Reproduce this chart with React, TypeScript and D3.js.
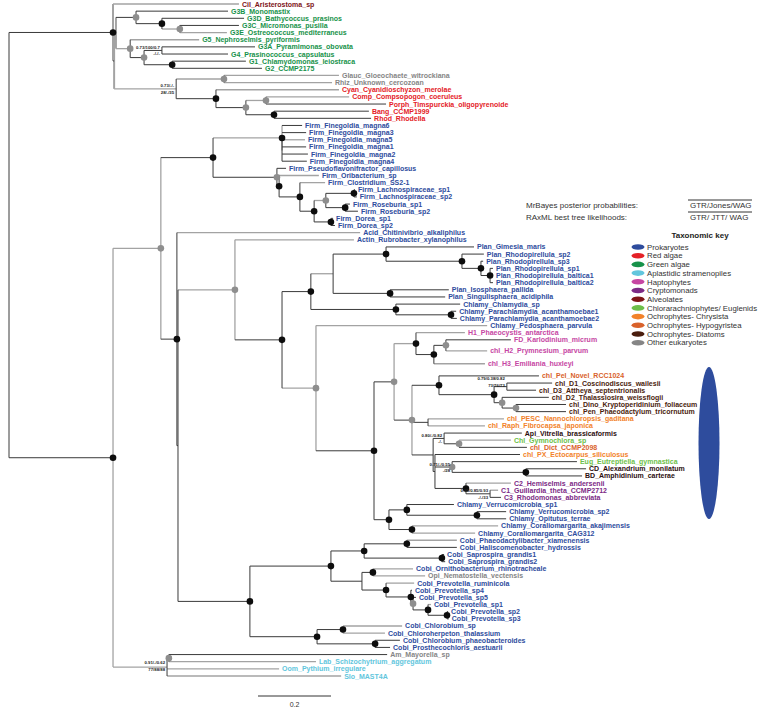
import React from "react";
import * as d3 from "d3";

// ---------- DATA ----------
// Tree pieces in Newick form; the number after ":" is the node's depth (distance from root, subst./site)
const topClade =
  "(Cil_Aristerostoma_sp:0.630,(((G3B_Monomastix:0.600,(G3D_Bathycoccus_prasinos:0.644,(G3C_Micromonas_pusilla:0.630,G3E_Ostreococcus_mediterraneus:0.597)G3Cn:0.468)G3Dn:0.419)G3Bc:0.348,(G5_Nephroselmis_pyriformis:0.521,((G3A_Pyramimonas_obovata:0.674,G4_Prasinococcus_capsulatus:0.600)G34:0.419,(G1_Chlamydomonas_leiostraca:0.649,G2_CCMP2175:0.693)G12:0.447)Gp:0.370)G5c:0.332)Gg:0.293,((Glauc_Gloeochaete_witrockiana:0.904,Rhiz_Unknown_cercozoan:0.885)GR:0.589,(Cyan_Cyanidioschyzon_merolae:0.904,((Comp_Compsopogon_coeruleus:0.932,Porph_Timspurckia_oligopyrenoide:1.033)Rd3:0.704,(Bang_CCMP1999:0.986,Rhod_Rhodella:0.992)Rd4:0.726)Rd2:0.649)Rd:0.567)R:0.458)A2:0.288)A1:0.285";

const firmClade =
  "((Firm_Finegoldia_magna6:0.803,Firm_Finegoldia_magna3:0.814,(Firm_Finegoldia_magna5:0.811,Firm_Finegoldia_magna1:0.814,Firm_Finegoldia_magna2:0.819,Firm_Finegoldia_magna4:0.816)Fin2:0.748)Fin:0.748,(Firm_Pseudoflavonifractor_capillosus:0.759,(Firm_Oribacterium_sp:0.849,(Firm_Clostridium_SS2-1:0.866,(((Firm_Lachnospiraceae_sp1:0.948,Firm_Lachnospiraceae_sp2:0.953)Lach:0.945,(Firm_Roseburia_sp1:0.934,Firm_Roseburia_sp2:0.956)Rose:0.921)Gl:0.868,(Firm_Dorea_sp1:0.888,Firm_Dorea_sp2:0.893)Dor:0.882)L:0.836)C:0.797)D:0.740)FP:0.734)F:0.559";

const planClade =
  "(((Plan_Gimesia_maris:1.274,(Plan_Rhodopirellula_sp2:1.301,(Plan_Rhodopirellula_sp3:1.299,(Plan_Rhodopirellula_sp1:1.326,Plan_Rhodopirellula_baltica1:1.326,Plan_Rhodopirellula_baltica2:1.326)R3:1.318)R2:1.293)R1:1.241)Pb:1.033,(Plan_Isosphaera_pallida:1.205,Plan_Singulisphaera_acidiphila:1.195)Pc:1.044)Pa:0.888,(Chlamy_Chlamydia_sp:1.236,(Chlamy_Parachlamydia_acanthamoebae1:1.225,Chlamy_Parachlamydia_acanthamoebae2:1.227)Pn:1.211)Chl:1.060)Pl:0.827";

const plastidClade =
  "((H1_Phaeocystis_antarctica:1.249,((FD_Karlodinium_micrum:1.375,chl_H2_Prymnesium_parvum:1.310)Hn3:1.197,chl_H3_Emiliania_huxleyi:1.304)Hn2:1.164)Hn:1.115,((chl_Pel_Novel_RCC1024:1.452,((chl_D1_Coscinodiscus_wailesii:1.488,chl_D3_Attheya_septentrionalis:1.444)Da:1.364,(chl_D2_Thalassiosira_weissflogii:1.479,(chl_Dino_Kryptoperidinium_foliaceum:1.526,chl_Pen_Phaeodactylum_tricornutum:1.526)Dc:1.389)Db:1.351)Dd:1.329)Dn:1.178,(chl_PESC_Nannochloropsis_gaditana:1.356,chl_Raph_Fibrocapsa_japonica:1.304)PR:1.148,((Api_Vitrella_brassicaformis:1.405,(Chl_Gymnochlora_sp:1.375,chl_Dict_CCMP2098:1.419)Gy:1.233)Ap:1.192,(chl_PX_Ectocarpus_siliculosus:1.400,(Eug_Eutreptiella_gymnastica:1.556,(CD_Alexandrium_monilatum:1.581,BD_Amphidinium_carterae:1.570)CDBD:1.416)E:1.214,(C2_Hemiselmis_andersenii:1.375,(C1_Guillardia_theta_CCMP2712:1.340,C3_Rhodomonas_abbreviata:1.348)Cr2:1.318)Cr:1.252)Kx:1.167)Y:1.162)W:1.104)U:1.055";

const verruClade =
  "((Chlamy_Verrucomicrobia_sp1:1.219,(Chlamy_Verrucomicrobia_sp2:1.362,Chlamy_Opitutus_terrae:1.362)Vr2:1.282)Vr1:1.090,(Chlamy_Coraliomargarita_akajimensis:1.340,Chlamy_Coraliomargarita_CAG312:1.277)Vc:1.104)V:1.041";

const cobiClade =
  "((((Cobi_Phaeodactylibacter_xiamenensis:1.227,Cobi_Haliscomenobacter_hydrossis:1.227)Ph:1.090,(Cobi_Saprospira_grandis1:1.192,Cobi_Saprospira_grandis2:1.195)Sp:1.186)Bu:0.973,((Cobi_Ornithobacterium_rhinotracheale:1.107,Opi_Nematostella_vectensis:1.140)On:0.997,(Cobi_Prevotella_ruminicola:1.110,(Cobi_Prevotella_sp4:1.104,(Cobi_Prevotella_sp5:1.115,(Cobi_Prevotella_sp1:1.156,(Cobi_Prevotella_sp2:1.203,Cobi_Prevotella_sp3:1.205)P4:1.200)P3:1.148)P2:1.107)P1:1.101)P0:1.033)Bl:0.967)Bac:0.882,((Cobi_Chlorobium_sp:1.077,Cobi_Chloroherpeton_thalassium:1.030)Cha:0.915,(Cobi_Chlorobium_phaeobacteroides:1.071,Cobi_Prosthecochloris_aestuarii:1.044)Chb:1.003)Ch:0.844)CB:0.660";

const stramClade =
  "((Am_Mayorella_sp:1.036,Lab_Schizochytrium_aggregatum:0.841)AL:0.438,Oom_Pythium_irregulare:0.740,Slo_MAST4A:0.910)Bb:0.433";

const treeNewick = `(${topClade},((${firmClade},(Acid_Chitinivibrio_alkaliphilus:0.962,((Actin_Rubrobacter_xylanophilus:0.945,(${planClade},(Chlamy_Pedosphaera_parvula:1.310,(${plastidClade},${verruClade})T:1.000)S:0.841)Q:0.748)P:0.619,${cobiClade})N2:0.463)M:0.460)G1n:0.416,${stramClade})B:0.285)root:0`;

// support symbols
const blackNodes = ["A1", "B", "G3Dn", "G12", "Rd", "Rd4", "F", "Fin", "D", "C", "L", "Lach", "Rose", "Dor", "M", "Q", "Pl", "Pb", "R1", "R2", "R3", "Pc", "Chl", "Pn", "T", "Hn", "Hn2", "Dn", "Dd", "CDBD", "Cr", "V", "Vr1", "Vr2", "Vc", "CB", "Bac", "Bu", "Ph", "Sp", "On", "P0", "P1", "P3", "P4", "Ch", "Cha", "Chb"];
const grayNodes = ["G3Bc", "G3Cn", "G5c", "Gp", "GR", "Rd2", "Rd3", "G1n", "FP", "Gl", "P", "S", "U", "Hn3", "W", "Db", "Dc", "Gy", "E", "P2", "AL"];
// [node, posterior line, likelihood line, vertical shift in px]
const supportLabels: [string, string, string, number][] = [
  ["R", "0.73/-/-", "28/-/35", 0],
  ["G34", "0.73/100/0.7", "-/-/-", 0],
  ["Da", "0.79/0.38/0.82", "73/76/73", -5],
  ["Ap", "0.80/-/0.82", "-/-", 0],
  ["E", "0.71/-/0.55", "-/28", 0],
  ["Cr2", "0.95/0.85/0.93", "-/-/33", 0],
  ["Bb", "0.91/-/0.62", "77/88/88", -1.5],
];
// branches drawn in light grey (stem into the named node / tip)
const greyStems = [
  "Cil_Aristerostoma_sp", "G3Cn", "G3E_Ostreococcus_mediterraneus", "G5c", "G5_Nephroselmis_pyriformis", "R", "GR",
  "Glauc_Gloeochaete_witrockiana", "Rhiz_Unknown_cercozoan", "Cyan_Cyanidioschyzon_merolae", "Rd3", "Comp_Compsopogon_coeruleus",
  "G1n", "Bb", "Fin", "Firm_Finegoldia_magna5", "Firm_Oribacterium_sp", "Firm_Clostridium_SS2-1", "Gl",
  "Acid_Chitinivibrio_alkaliphilus", "Actin_Rubrobacter_xylanophilus", "P", "Pa", "S", "Hn", "H1_Phaeocystis_antarctica",
  "chl_H2_Prymnesium_parvum", "chl_H3_Emiliania_huxleyi", "chl_PESC_Nannochloropsis_gaditana", "chl_Raph_Fibrocapsa_japonica",
  "Chl_Gymnochlora_sp", "C2_Hemiselmis_andersenii", "C1_Guillardia_theta_CCMP2712", "Chlamy_Pedosphaera_parvula",
  "Chlamy_Coraliomargarita_akajimensis", "Chlamy_Coraliomargarita_CAG312", "Cobi_Phaeodactylibacter_xiamenensis",
  "Cobi_Ornithobacterium_rhinotracheale", "Opi_Nematostella_vectensis", "Cobi_Prevotella_ruminicola", "Cobi_Prevotella_sp1",
  "Cobi_Chlorobium_sp", "Cobi_Chloroherpeton_thalassium", "Lab_Schizochytrium_aggregatum", "Oom_Pythium_irregulare", "Slo_MAST4A",
];
const greyVerticals = ["A1", "A2", "Gg", "B", "G1n", "P", "S", "U", "W", "Fin", "Gy", "Cha"];

// extra vertical space (in rows) before some tips
const extraGap: [string, number][] = [
  ["chl_H2_Prymnesium_parvum", 0.55],
  ["chl_H3_Emiliania_huxleyi", 0.8],
  ["chl_Pel_Novel_RCC1024", 0.7],
];

// taxonomic key
const groups = ["Prokaryotes", "Red algae", "Green algae", "Aplastidic stramenopiles", "Haptophytes", "Cryptomonads", "Alveolates", "Chlorarachniophytes/ Euglenids", "Ochrophytes- Chrysista", "Ochrophytes- Hypogyristea", "Ochrophytes- Diatoms", "Other eukaryotes"];
const groupColors = ["#2e4c9d", "#e42127", "#17924a", "#62c6dd", "#c646a3", "#7c2a85", "#7e1517", "#6dbf4a", "#f2822a", "#d9622b", "#4a1d0d", "#858585"];
const dinoColor = "#2c0e0e";
// tip prefix -> group index (12 = dinoflagellate/apicomplexan tips)
const prefixGroup: [string, number][] = [
  ["Firm_", 0], ["Acid_", 0], ["Actin_", 0], ["Plan_", 0], ["Chlamy_", 0], ["Cobi_", 0],
  ["Cyan_", 1], ["Comp_", 1], ["Porph_", 1], ["Bang_", 1], ["Rhod_", 1],
  ["G1_", 2], ["G2_", 2], ["G3", 2], ["G4_", 2], ["G5_", 2],
  ["Lab_", 3], ["Oom_", 3], ["Slo_", 3],
  ["H1_", 4], ["FD_", 4], ["chl_H2", 4], ["chl_H3", 4],
  ["C1_", 5], ["C2_", 5], ["C3_", 5],
  ["Cil_", 6], ["Api_", 12], ["CD_", 12], ["BD_", 12],
  ["Chl_", 7], ["Eug_", 7],
  ["chl_PESC", 8], ["chl_Raph", 8], ["chl_PX", 8],
  ["chl_Pel", 9], ["chl_Dict", 9],
  ["chl_D", 10], ["chl_Pen", 10],
  ["Glauc_", 11], ["Rhiz_", 11], ["Opi_", 11], ["Am_", 11],
];

const scaleBarValue = 0.2;

// ---------- PARSING ----------
type TNode = { name: string; depth: number; children: TNode[] };
function parseNewick(src: string): TNode {
  const s = src.replace(/\s+/g, "");
  let i = 0;
  function parse(): TNode {
    const node: TNode = { name: "", depth: 0, children: [] };
    if (s[i] === "(") {
      i++;
      node.children.push(parse());
      while (s[i] === ",") {
        i++;
        node.children.push(parse());
      }
      i++;
    }
    let name = "";
    while (i < s.length && !":,()".includes(s[i])) name += s[i++];
    node.name = name;
    if (s[i] === ":") {
      i++;
      let num = "";
      while (i < s.length && !",()".includes(s[i])) num += s[i++];
      node.depth = parseFloat(num);
    }
    return node;
  }
  return parse();
}

function tipColor(name: string) {
  let best = -1, bestLen = -1;
  for (const [p, g] of prefixGroup) {
    if (name.startsWith(p) && p.length > bestLen) {
      best = g;
      bestLen = p.length;
    }
  }
  if (best === 12) return dinoColor;
  return best >= 0 ? groupColors[best] : "#333";
}

const FONT = "'Liberation Sans', Arial, Helvetica, sans-serif";

export default function App() {
  const root = d3.hierarchy(parseNewick(treeNewick), (d) => (d.children.length ? d.children : null));
  const leaves = root.leaves();
  const gapMap = new Map(extraGap);
  let row = 0;
  const rowOf = new Map<any, number>();
  leaves.forEach((l, k) => {
    if (k > 0) row += 1 + (gapMap.get(l.data.name) || 0);
    rowOf.set(l, row);
  });
  const y = d3.scaleLinear().domain([0, row]).range([4, 676]);
  const x = d3.scaleLinear().domain([0, 1]).range([9, 374]);
  const Y = new Map<any, number>();
  root.eachAfter((n) => {
    if (!n.children) Y.set(n, y(rowOf.get(n)!));
    else Y.set(n, (Y.get(n.children[0])! + Y.get(n.children[n.children.length - 1])!) / 2);
  });
  const byName = new Map<string, any>();
  root.each((n) => byName.set(n.data.name, n));

  const dark = "#3a3a3a";
  const grey = "#a3a3a3";
  const gStem = new Set(greyStems);
  const gVert = new Set(greyVerticals);
  const nodes = root.descendants();
  const stems = nodes.filter((n) => n.parent);
  const verts = nodes.filter((n) => n.children);
  const isTopBar = (nm: string) => nm === "A1" || nm === "A2" || nm === "Gg";

  const hLine = (n: any, k: number) => (
    <line key={"h" + k} x1={x(n.parent.data.depth)} x2={x(n.data.depth)} y1={Y.get(n)} y2={Y.get(n)}
      stroke={gStem.has(n.data.name) ? grey : dark} strokeWidth={gStem.has(n.data.name) ? 1.3 : 1} />
  );
  const vLine = (n: any, k: number) => (
    <line key={"v" + k} x1={x(n.data.depth)} x2={x(n.data.depth)} y1={Y.get(n.children[0])} y2={Y.get(n.children[n.children.length - 1])}
      stroke={gVert.has(n.data.name) ? grey : dark} strokeWidth={isTopBar(n.data.name) ? 2 : gVert.has(n.data.name) ? 1.3 : 1} />
  );

  return (
    <svg width={766} height={709} style={{ display: "block", position: "absolute", left: 0, top: 0, background: "#fff" }}>
      <g fill="none">
        {stems.filter((n) => gStem.has(n.data.name)).map(hLine)}
        {verts.filter((n) => gVert.has(n.data.name)).map(vLine)}
        {stems.filter((n) => !gStem.has(n.data.name)).map(hLine)}
        {verts.filter((n) => !gVert.has(n.data.name)).map(vLine)}
      </g>
      {grayNodes.map((nm) => {
        const n = byName.get(nm);
        return <circle key={nm} cx={x(n.data.depth)} cy={Y.get(n)} r={3.3} fill="#8e8e8e" />;
      })}
      {blackNodes.map((nm) => {
        const n = byName.get(nm);
        return <circle key={nm} cx={x(n.data.depth)} cy={Y.get(n)} r={3.3} fill="#0d0d0d" />;
      })}
      <g fontFamily={FONT} fontWeight="bold" fontSize={4.3} fill="#222" textAnchor="end">
        {supportLabels.map(([nm, a, b, dy]) => {
          const n = byName.get(nm);
          const cx = x(n.data.depth) - 2;
          const cy = Y.get(n)! + dy;
          return (
            <g key={nm}>
              <text x={cx} y={cy - 1.5}>{a}</text>
              <text x={cx} y={cy + 5}>{b}</text>
            </g>
          );
        })}
      </g>
      <g fontFamily={FONT} fontWeight="bold" fontSize={7}>
        {leaves.map((l) => (
          <text key={l.data.name} x={x(l.data.depth) + 3} y={Y.get(l)! + 2.5} fill={tipColor(l.data.name)}>
            {l.data.name}
          </text>
        ))}
      </g>
      {/* scale bar */}
      <line x1={x(0) + 249} x2={x(scaleBarValue) + 249} y1={696} y2={696} stroke="#333" strokeWidth={1} />
      <text x={(x(0) + x(scaleBarValue)) / 2 + 249} y={707} textAnchor="middle" fontFamily={FONT} fontSize={7} fill="#333">
        {scaleBarValue}
      </text>
      {/* method header */}
      <g fontFamily={FONT} fontSize={8} fill="#333">
        <text x={526} y={208}>MrBayes posterior probabilities:</text>
        <text x={690} y={208}>GTR/Jones/WAG</text>
        <text x={526} y={220}>RAxML best tree likelihoods:</text>
        <text x={690} y={220}>GTR/ JTT/ WAG</text>
        <line x1={688} x2={752} y1={200} y2={200} stroke="#333" />
        <line x1={688} x2={752} y1={212} y2={212} stroke="#333" />
      </g>
      {/* legend */}
      <g fontFamily={FONT}>
        <text x={700} y={238} textAnchor="middle" fontWeight="bold" fontSize={8} fill="#222">Taxonomic key</text>
        {groups.map((g, k) => (
          <g key={g} transform={`translate(0, ${247 + k * 8.7})`}>
            <ellipse cx={638} cy={0} rx={6.5} ry={2.8} fill={groupColors[k]} />
            <text x={647} y={2.7} fontSize={7.8} fill="#333">{g}</text>
          </g>
        ))}
      </g>
      <ellipse cx={709} cy={443} rx={10.5} ry={76} fill="#2e4c9d" />
    </svg>
  );
}
